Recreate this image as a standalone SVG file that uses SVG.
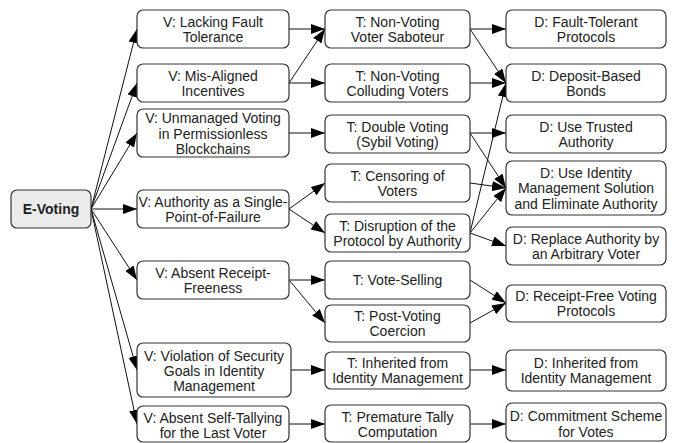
<svg xmlns="http://www.w3.org/2000/svg" width="675" height="443" viewBox="0 0 675 443">
<style>
.box{fill:#fff;stroke:#333;stroke-width:1.2}
.root{fill:#ebebeb;stroke:#333;stroke-width:1.2}
text{font-family:"Liberation Sans",Arial,sans-serif;font-size:14px;fill:#222;text-anchor:middle;dominant-baseline:central}
.b{font-weight:bold}
.e{stroke:#111;stroke-width:1;fill:none;marker-end:url(#ah)}
</style>
<defs>
<marker id="ah" markerUnits="userSpaceOnUse" markerWidth="14" markerHeight="10" refX="14" refY="5" orient="auto">
<path d="M0,0 L14,5 L0,10 z" fill="#000"/>
</marker>
</defs>
<g id="connectors">
<path class="e" d="M91,209 L137,29"/>
<path class="e" d="M91,209 L137,83"/>
<path class="e" d="M91,209 L137,133"/>
<path class="e" d="M91,209 L137,209"/>
<path class="e" d="M91,209 L137,280"/>
<path class="e" d="M91,209 L137,370"/>
<path class="e" d="M91,209 L137,424"/>
<path class="e" d="M289,29 L325,29"/>
<path class="e" d="M289,83 L325,29"/>
<path class="e" d="M289,83 L325,83"/>
<path class="e" d="M289,133 L325,133"/>
<path class="e" d="M289,209 L325,183"/>
<path class="e" d="M289,209 L325,233"/>
<path class="e" d="M289,280 L325,280"/>
<path class="e" d="M289,280 L325,323"/>
<path class="e" d="M291,370 L325,370"/>
<path class="e" d="M289,424 L325,424"/>
<path class="e" d="M470,29 L506,29"/>
<path class="e" d="M470,29 L506,83"/>
<path class="e" d="M470,83 L506,83"/>
<path class="e" d="M470,233 L506,83"/>
<path class="e" d="M470,133 L506,133"/>
<path class="e" d="M470,133 L506,188"/>
<path class="e" d="M470,183 L506,188"/>
<path class="e" d="M470,233 L506,188"/>
<path class="e" d="M470,233 L506,246"/>
<path class="e" d="M470,280 L506,303"/>
<path class="e" d="M470,323 L506,303"/>
<path class="e" d="M470,370 L506,370"/>
<path class="e" d="M470,424 L506,424"/>
</g>
<g id="evoting"><rect class="root" x="11" y="190" width="80" height="38" rx="6"/><text class="b" x="51" y="209">E-Voting</text></g>
<g id="v1"><rect class="box" x="137" y="10" width="152" height="38" rx="6"/><text x="213" y="21.5">V: Lacking Fault</text><text x="213" y="36.5">Tolerance</text></g>
<g id="v2"><rect class="box" x="137" y="64" width="152" height="38" rx="6"/><text x="213" y="75.5">V: Mis-Aligned</text><text x="213" y="90.5">Incentives</text></g>
<g id="v3"><rect class="box" x="137" y="109" width="152" height="48" rx="6"/><text x="213" y="118">V: Unmanaged Voting</text><text x="213" y="133.5">in Permissionless</text><text x="213" y="149">Blockchains</text></g>
<g id="v4"><rect class="box" x="137" y="190" width="152" height="38" rx="6"/><text x="213" y="201.5">V: Authority as a Single-</text><text x="213" y="216.5">Point-of-Failure</text></g>
<g id="v5"><rect class="box" x="137" y="261" width="152" height="38" rx="6"/><text x="213" y="272.5">V: Absent Receipt-</text><text x="213" y="287.5">Freeness</text></g>
<g id="v6"><rect class="box" x="137" y="343" width="154" height="54" rx="6"/><text x="214" y="355.5">V: Violation of Security</text><text x="214" y="370.5">Goals in Identity</text><text x="214" y="385.5">Management</text></g>
<g id="v7"><rect class="box" x="137" y="406" width="152" height="36" rx="6"/><text x="213" y="417.5">V: Absent Self-Tallying</text><text x="213" y="433">for the Last Voter</text></g>
<g id="t1"><rect class="box" x="325" y="10" width="145" height="38" rx="6"/><text x="397.5" y="21.5">T: Non-Voting</text><text x="397.5" y="36.5">Voter Saboteur</text></g>
<g id="t2"><rect class="box" x="325" y="64" width="145" height="38" rx="6"/><text x="397.5" y="75.5">T: Non-Voting</text><text x="397.5" y="90.5">Colluding Voters</text></g>
<g id="t3"><rect class="box" x="325" y="115" width="145" height="38" rx="6"/><text x="397.5" y="126.5">T: Double Voting</text><text x="397.5" y="141.5">(Sybil Voting)</text></g>
<g id="t4"><rect class="box" x="325" y="164" width="145" height="38" rx="6"/><text x="397.5" y="175.5">T: Censoring of</text><text x="397.5" y="190.5">Voters</text></g>
<g id="t5"><rect class="box" x="325" y="214" width="145" height="38" rx="6"/><text x="397.5" y="225.5">T: Disruption of the</text><text x="397.5" y="240.5">Protocol by Authority</text></g>
<g id="t6"><rect class="box" x="325" y="261" width="145" height="38" rx="6"/><text x="397.5" y="280">T: Vote-Selling</text></g>
<g id="t7"><rect class="box" x="325" y="305" width="145" height="37" rx="6"/><text x="397.5" y="316">T: Post-Voting</text><text x="397.5" y="331">Coercion</text></g>
<g id="t8"><rect class="box" x="325" y="352" width="145" height="37" rx="6"/><text x="397.5" y="363">T: Inherited from</text><text x="397.5" y="378">Identity Management</text></g>
<g id="t9"><rect class="box" x="325" y="405" width="145" height="37" rx="6"/><text x="397.5" y="416.5">T: Premature Tally</text><text x="397.5" y="432">Computation</text></g>
<g id="d1"><rect class="box" x="506" y="10" width="160" height="38" rx="6"/><text x="586" y="21.5">D: Fault-Tolerant</text><text x="586" y="36.5">Protocols</text></g>
<g id="d2"><rect class="box" x="506" y="64" width="160" height="38" rx="6"/><text x="586" y="75.5">D: Deposit-Based</text><text x="586" y="90.5">Bonds</text></g>
<g id="d3"><rect class="box" x="506" y="115" width="160" height="38" rx="6"/><text x="586" y="126.5">D: Use Trusted</text><text x="586" y="141.5">Authority</text></g>
<g id="d4"><rect class="box" x="506" y="161" width="160" height="54" rx="6"/><text x="586" y="172.5">D: Use Identity</text><text x="586" y="188">Management Solution</text><text x="586" y="203.5">and Eliminate Authority</text></g>
<g id="d5"><rect class="box" x="506" y="227" width="160" height="38" rx="6"/><text x="586" y="238.5">D: Replace Authority by</text><text x="586" y="253.5">an Arbitrary Voter</text></g>
<g id="d6"><rect class="box" x="506" y="285" width="160" height="37" rx="6"/><text x="586" y="296">D: Receipt-Free Voting</text><text x="586" y="311">Protocols</text></g>
<g id="d7"><rect class="box" x="506" y="350" width="160" height="41" rx="6"/><text x="586" y="363">D: Inherited from</text><text x="586" y="378">Identity Management</text></g>
<g id="d8"><rect class="box" x="506" y="403" width="160" height="38" rx="6"/><text x="586" y="416">D: Commitment Scheme</text><text x="586" y="432">for Votes</text></g>
</svg>
